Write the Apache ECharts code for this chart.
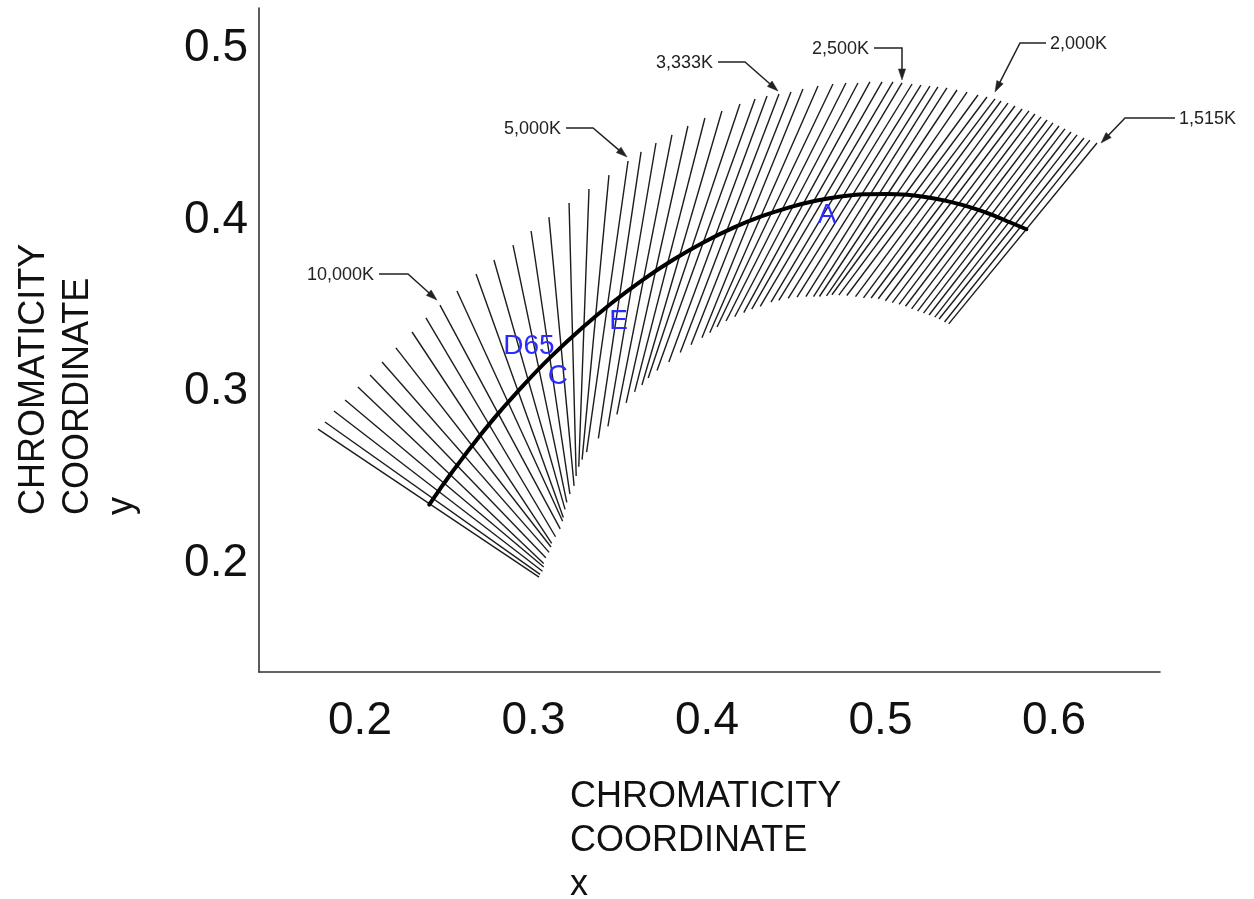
<!DOCTYPE html>
<html>
<head>
<meta charset="utf-8">
<title>Isotemperature lines on the CIE 1931 chromaticity diagram</title>
<script src="https://cdn.jsdelivr.net/npm/echarts@6/dist/echarts.min.js"></script>
<style>
  html, body { margin: 0; padding: 0; background: #fff; }
  #chart { width: 1254px; height: 899px; }
</style>
</head>
<body>
<div id="chart"></div>
<script>
// Reciprocal colour temperature of each isotemperature line, in mired (10^6 / K)
const mired = [
  0, 10, 20, 30, 40, 50, 60, 70, 80, 90,
  100, 110, 120, 130, 140, 150, 160, 170, 180, 190,
  200, 210, 220, 230, 240, 250, 260, 270, 280, 290,
  300, 310, 320, 330, 340, 350, 360, 370, 380, 390,
  400, 410, 420, 430, 440, 450, 460, 470, 480, 490,
  500, 510, 520, 530, 540, 550, 560, 570, 580, 590,
  600, 610, 620, 630, 640, 650, 660
];

// Upper (green side) end of each isotemperature line
const upperX = [
  0.1758, 0.1798, 0.1850, 0.1914, 0.1988, 0.2058, 0.2127, 0.2207, 0.2300, 0.2380,
  0.2461, 0.2559, 0.2669, 0.2772, 0.2882, 0.2986, 0.3089, 0.3205, 0.3320, 0.3435,
  0.3545, 0.3620, 0.3706, 0.3798, 0.3890, 0.3988, 0.4086, 0.4190, 0.4277, 0.4346,
  0.4415, 0.4484, 0.4553, 0.4640, 0.4726, 0.4801, 0.4870, 0.4939, 0.5009, 0.5072,
  0.5124, 0.5182, 0.5233, 0.5285, 0.5331, 0.5383, 0.5441, 0.5499, 0.5562, 0.5614,
  0.5660, 0.5695, 0.5735, 0.5775, 0.5816, 0.5856, 0.5890, 0.5925, 0.5960, 0.5994,
  0.6029, 0.6063, 0.6098, 0.6133, 0.6173, 0.6207, 0.6248
];
const upperY = [
  0.2781, 0.2822, 0.2886, 0.2950, 0.3026, 0.3096, 0.3172, 0.3254, 0.3347, 0.3429,
  0.3504, 0.3586, 0.3685, 0.3767, 0.3854, 0.3936, 0.4017, 0.4099, 0.4181, 0.4262,
  0.4344, 0.4397, 0.4449, 0.4496, 0.4548, 0.4595, 0.4636, 0.4676, 0.4706, 0.4723,
  0.4735, 0.4746, 0.4764, 0.4781, 0.4793, 0.4799, 0.4799, 0.4805, 0.4805, 0.4805,
  0.4799, 0.4793, 0.4787, 0.4781, 0.4776, 0.4770, 0.4758, 0.4746, 0.4729, 0.4717,
  0.4706, 0.4694, 0.4682, 0.4665, 0.4647, 0.4636, 0.4618, 0.4601, 0.4583, 0.4566,
  0.4548, 0.4531, 0.4513, 0.4496, 0.4478, 0.4466, 0.4449
];

// Lower (purple side) end of each isotemperature line
const lowerX = [
  0.3032, 0.3038, 0.3052, 0.3059, 0.3059, 0.3071, 0.3090, 0.3101, 0.3105, 0.3127,
  0.3154, 0.3168, 0.3172, 0.3182, 0.3192, 0.3210, 0.3234, 0.3246, 0.3261, 0.3280,
  0.3306, 0.3374, 0.3429, 0.3481, 0.3534, 0.3583, 0.3625, 0.3661, 0.3712, 0.3780,
  0.3846, 0.3908, 0.3971, 0.4016, 0.4058, 0.4110, 0.4160, 0.4212, 0.4258, 0.4307,
  0.4369, 0.4414, 0.4468, 0.4519, 0.4570, 0.4614, 0.4648, 0.4689, 0.4720, 0.4760,
  0.4806, 0.4856, 0.4902, 0.4946, 0.4987, 0.5028, 0.5068, 0.5107, 0.5144, 0.5179,
  0.5214, 0.5248, 0.5280, 0.5313, 0.5338, 0.5369, 0.5393
];
const lowerY = [
  0.1918, 0.1934, 0.1952, 0.1977, 0.1997, 0.2030, 0.2062, 0.2093, 0.2115, 0.2153,
  0.2199, 0.2243, 0.2265, 0.2313, 0.2353, 0.2401, 0.2450, 0.2507, 0.2561, 0.2603,
  0.2647, 0.2727, 0.2796, 0.2866, 0.2934, 0.2998, 0.3038, 0.3079, 0.3123, 0.3172,
  0.3227, 0.3272, 0.3313, 0.3343, 0.3376, 0.3411, 0.3436, 0.3460, 0.3480, 0.3496,
  0.3521, 0.3531, 0.3543, 0.3551, 0.3553, 0.3553, 0.3554, 0.3557, 0.3564, 0.3562,
  0.3560, 0.3553, 0.3546, 0.3545, 0.3541, 0.3529, 0.3518, 0.3508, 0.3497, 0.3482,
  0.3469, 0.3457, 0.3446, 0.3434, 0.3423, 0.3405, 0.3394
];

// Planckian (blackbody) locus from infinite temperature down to 1,515 K
const locusMired = [0, 10, 20, 30, 40, 50, 60, 70, 80, 90, 100, 125, 150, 175, 200, 225, 250,
  275, 300, 325, 350, 375, 400, 425, 450, 475, 500, 525, 550, 575, 600, 630, 660];
const locusX = [
  0.2399, 0.2426, 0.2456, 0.2489, 0.2525, 0.2565, 0.2607, 0.2653, 0.2701, 0.2752, 0.2806,
  0.2952, 0.3110, 0.3278, 0.3451, 0.3628, 0.3805, 0.3979, 0.4150, 0.4316, 0.4475, 0.4626,
  0.4770, 0.4906, 0.5034, 0.5154, 0.5267, 0.5372, 0.5471, 0.5564, 0.5651, 0.5745, 0.5841
];
const locusY = [
  0.2340, 0.2380, 0.2424, 0.2471, 0.2522, 0.2576, 0.2633, 0.2693, 0.2755, 0.2818, 0.2883,
  0.3048, 0.3212, 0.3369, 0.3516, 0.3650, 0.3768, 0.3869, 0.3954, 0.4022, 0.4074, 0.4112,
  0.4137, 0.4150, 0.4152, 0.4147, 0.4133, 0.4113, 0.4088, 0.4059, 0.4027, 0.3987, 0.3946
];

// Tick labels
const xTicks = [0.2, 0.3, 0.4, 0.5, 0.6];
const yTicks = [0.2, 0.3, 0.4, 0.5];

// Standard illuminant names and where their labels sit
const illuminantNames = ['D65', 'C', 'E', 'A'];
const illuminantLabelX = [0.2974, 0.3141, 0.3490, 0.4692];
const illuminantLabelY = [0.3265, 0.3090, 0.3411, 0.4029];

// Temperatures called out with leader arrows, and the line (mired) each one points at
const calloutText = ['10,000K', '5,000K', '3,333K', '2,500K', '2,000K', '1,515K'];
const calloutMired = [100, 200, 300, 400, 500, 660];

// Leader geometry in pixels, relative to the upper end of the pointed line:
// arrow tip, elbow, start of the leader, and on which side the text sits
const calloutLayout = [
  { tip: [-3, -5], elbow: [-32, -31], start: [-61, -31], side: 'left' },
  { tip: [-1, -4], elbow: [-35, -33], start: [-62, -33], side: 'left' },
  { tip: [-1, -3], elbow: [-34, -32], start: [-61, -32], side: 'left' },
  { tip: [0, -3], elbow: [0, -35], start: [-28, -35], side: 'left' },
  { tip: [0, -7], elbow: [25, -56], start: [51, -56], side: 'right' },
  { tip: [4, 0], elbow: [28, -25], start: [78, -25], side: 'right' }
];

// Axis extent: the plot frame spans these chromaticity values
const X_MIN = 0.14179, X_MAX = 0.66110;
const Y_MIN = 0.13644, Y_MAX = 0.52362;

const FONT = '"Liberation Sans", Arial, Helvetica, sans-serif';
const LABEL_BLUE = '#2b2bff';

const chart = echarts.init(document.getElementById('chart'), null, { renderer: 'canvas' });

const isoLines = mired.map((m, i) => ({
  name: m + ' mired',
  coords: [[upperX[i], upperY[i]], [lowerX[i], lowerY[i]]]
}));

const option = {
  animation: false,
  backgroundColor: '#ffffff',
  textStyle: { fontFamily: FONT },
  grid: { left: 259, top: 8, right: 94, bottom: 227, containLabel: false, outerBoundsMode: 'none' },
  xAxis: {
    type: 'value',
    min: X_MIN,
    max: X_MAX,
    axisLine: { show: true, onZero: false, lineStyle: { color: '#333', width: 1.6 } },
    axisTick: { show: false },
    splitLine: { show: false },
    axisLabel: {
      customValues: xTicks,
      formatter: v => v.toFixed(1),
      fontSize: 46,
      color: '#111',
      margin: 26,
      fontFamily: FONT
    }
  },
  yAxis: {
    type: 'value',
    min: Y_MIN,
    max: Y_MAX,
    axisLine: { show: true, onZero: false, lineStyle: { color: '#333', width: 1.6 } },
    axisTick: { show: false },
    splitLine: { show: false },
    axisLabel: {
      customValues: yTicks,
      formatter: v => v.toFixed(1),
      fontSize: 46,
      color: '#111',
      margin: 11,
      fontFamily: FONT
    }
  },
  series: [
    {
      name: 'Isotemperature lines',
      type: 'lines',
      coordinateSystem: 'cartesian2d',
      silent: true,
      z: 2,
      lineStyle: { color: '#1c1c1c', width: 1.4, opacity: 1 },
      data: isoLines
    },
    {
      name: 'Planckian locus',
      type: 'line',
      smooth: 0.4,
      showSymbol: false,
      silent: true,
      z: 3,
      lineStyle: { color: '#000', width: 4, cap: 'round' },
      data: locusX.map((x, i) => [x, locusY[i]])
    }
  ]
};

chart.setOption(option);

const toPx = (x, y) => chart.convertToPixel({ gridIndex: 0 }, [x, y]);

// Leader arrows and the temperature call-outs, anchored on the line ends
function buildCallouts() {
  const els = [];
  calloutText.forEach((txt, k) => {
    const idx = mired.indexOf(calloutMired[k]);
    const p = toPx(upperX[idx], upperY[idx]);
    const L = calloutLayout[k];
    const tip = [p[0] + L.tip[0], p[1] + L.tip[1]];
    const elbow = [p[0] + L.elbow[0], p[1] + L.elbow[1]];
    const start = [p[0] + L.start[0], p[1] + L.start[1]];
    const dx = tip[0] - elbow[0], dy = tip[1] - elbow[1];
    const len = Math.hypot(dx, dy) || 1;
    const ux = dx / len, uy = dy / len;
    const head = 11, half = 3.6;
    const bx = tip[0] - ux * head, by = tip[1] - uy * head;
    els.push({
      type: 'polyline',
      silent: true,
      shape: { points: [start, elbow, [bx + ux * 2, by + uy * 2]] },
      style: { stroke: '#222', lineWidth: 1.5, fill: null }
    });
    els.push({
      type: 'polygon',
      silent: true,
      shape: { points: [tip, [bx - uy * half, by + ux * half], [bx + uy * half, by - ux * half]] },
      style: { fill: '#222', stroke: '#222', lineWidth: 0.5 }
    });
    els.push({
      type: 'text',
      silent: true,
      x: L.side === 'left' ? start[0] - 5 : start[0] + 4,
      y: start[1] + 1,
      style: {
        text: txt,
        font: '18px ' + FONT,
        fill: '#222',
        align: L.side === 'left' ? 'right' : 'left',
        verticalAlign: 'middle'
      }
    });
  });
  return els;
}

// Blue names of the standard illuminants next to the locus
function buildIlluminants() {
  return illuminantNames.map((n, i) => {
    const p = toPx(illuminantLabelX[i], illuminantLabelY[i]);
    return {
      type: 'text',
      silent: true,
      z: 10,
      x: p[0],
      y: p[1],
      style: {
        text: n,
        font: '28px ' + FONT,
        fill: LABEL_BLUE,
        align: 'center',
        verticalAlign: 'middle'
      }
    };
  });
}

const titles = [
  {
    type: 'text',
    silent: true,
    x: 570,
    y: 775,
    style: {
      text: 'CHROMATICITY\nCOORDINATE\nx',
      font: '36px ' + FONT,
      lineHeight: 44,
      fill: '#111',
      align: 'left',
      verticalAlign: 'top'
    }
  },
  {
    type: 'text',
    silent: true,
    x: 12,
    y: 515,
    rotation: Math.PI / 2,
    style: {
      text: 'CHROMATICITY\nCOORDINATE\ny',
      font: '36px ' + FONT,
      lineHeight: 44,
      fill: '#111',
      align: 'left',
      verticalAlign: 'top'
    }
  }
];

chart.setOption({ graphic: { elements: titles.concat(buildCallouts(), buildIlluminants()) } });
</script>
</body>
</html>
